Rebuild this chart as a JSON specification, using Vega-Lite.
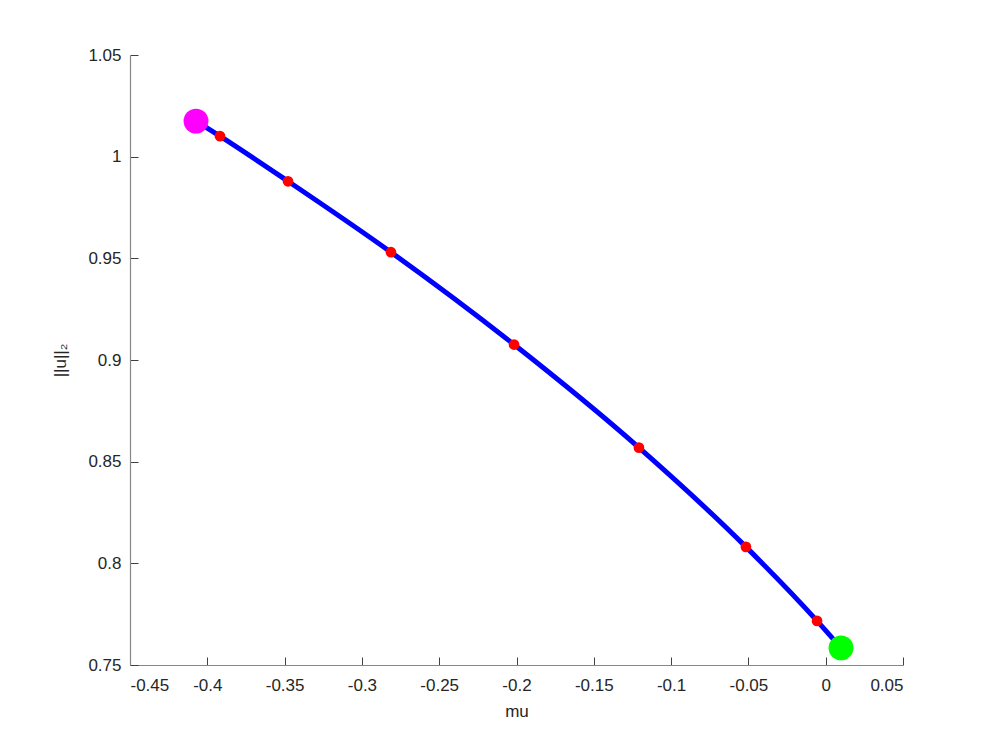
{
  "$schema": "https://vega.github.io/schema/vega-lite/v6.json",
  "width": 773,
  "height": 610,
  "autosize": {"type": "none"},
  "padding": {"left": 130, "top": 55, "right": 94, "bottom": 82},
  "background": "#ffffff",
  "config": {
    "view": {"stroke": null},
    "font": "Liberation Sans",
    "axis": {
      "grid": false,
      "domainColor": "#878787",
      "domainWidth": 1.2,
      "tickColor": "#404040",
      "tickSize": -8,
      "tickWidth": 1,
      "labelColor": "#262626",
      "labelFontSize": 17,
      "labelFont": "Liberation Sans",
      "titleColor": "#262626",
      "titleFontSize": 17,
      "titleFont": "Liberation Sans",
      "titleFontWeight": "normal"
    }
  },
  "data": {
    "values": [
      {"mu": -0.4073, "norm": 1.0175, "kind": "start"},
      {"mu": -0.3918, "norm": 1.0101, "kind": "mid"},
      {"mu": -0.3478, "norm": 0.9879, "kind": "mid"},
      {"mu": -0.2812, "norm": 0.9530, "kind": "mid"},
      {"mu": -0.2016, "norm": 0.9076, "kind": "mid"},
      {"mu": -0.1208, "norm": 0.8569, "kind": "mid"},
      {"mu": -0.0516, "norm": 0.8081, "kind": "mid"},
      {"mu": -0.0056, "norm": 0.7717, "kind": "mid"},
      {"mu": 0.0099, "norm": 0.7584, "kind": "end"}
    ]
  },
  "encoding": {
    "x": {
      "field": "mu", "type": "quantitative",
      "scale": {"domain": [-0.45, 0.05], "nice": false, "zero": false},
      "axis": {
        "title": "mu",
        "values": [-0.45, -0.4, -0.35, -0.3, -0.25, -0.2, -0.15, -0.1, -0.05, 0, 0.05],
        "labelExpr": "'' + datum.value",
        "labelPadding": 20,
        "titlePadding": 10
      }
    },
    "y": {
      "field": "norm", "type": "quantitative",
      "scale": {"domain": [0.75, 1.05], "nice": false, "zero": false},
      "axis": {
        "title": "||u||₂",
        "values": [0.75, 0.8, 0.85, 0.9, 0.95, 1, 1.05],
        "labelExpr": "'' + datum.value",
        "labelPadding": 17,
        "titlePadding": 18
      }
    }
  },
  "layer": [
    {
      "mark": {"type": "line", "color": "#0000ff", "strokeWidth": 5, "interpolate": "monotone"},
      "encoding": {"order": {"field": "mu", "type": "quantitative"}}
    },
    {
      "transform": [{"filter": "datum.kind === 'mid'"}],
      "mark": {"type": "circle", "color": "#ff0000", "opacity": 1, "size": 115}
    },
    {
      "transform": [{"filter": "datum.kind === 'start'"}],
      "mark": {"type": "circle", "color": "#ff00ff", "opacity": 1, "size": 620}
    },
    {
      "transform": [{"filter": "datum.kind === 'end'"}],
      "mark": {"type": "circle", "color": "#00ff00", "opacity": 1, "size": 620}
    }
  ]
}
